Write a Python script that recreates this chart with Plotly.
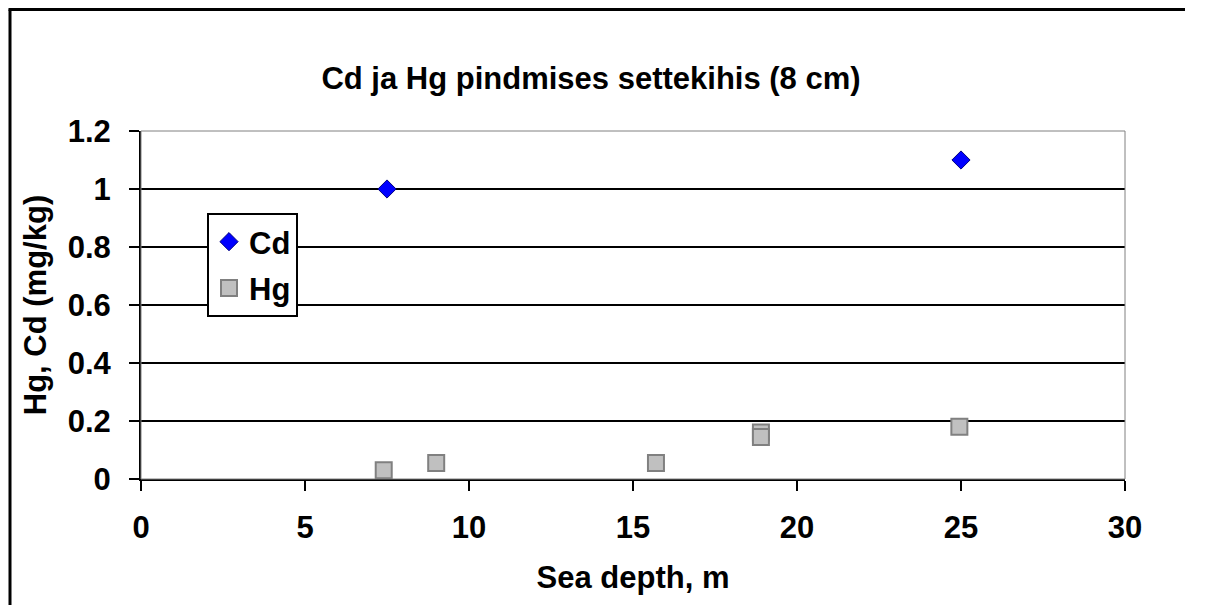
import plotly.graph_objects as go

cd_depth = [7.5, 25.0]
cd_value = [1.0, 1.1]
hg_depth = [7.4, 9.0, 15.7, 18.9, 18.9, 24.95]
hg_value = [0.03, 0.055, 0.055, 0.16, 0.145, 0.18]

x_ticks = [0, 5, 10, 15, 20, 25, 30]
y_ticks = [0, 0.2, 0.4, 0.6, 0.8, 1.0, 1.2]
y_tick_text = ["0", "0.2", "0.4", "0.6", "0.8", "1", "1.2"]

FONT = "Liberation Sans, Arial, sans-serif"
FS = 31

W, H = 1212, 605
L, R, T, B = 141, 1212 - 1125, 131, 605 - 479
pw, ph = W - L - R, H - T - B

fig = go.Figure()
fig.add_trace(go.Scatter(
    x=cd_depth, y=cd_value, mode="markers", name="<b>Cd</b>", legendgroup="cd",
    marker=dict(symbol="diamond", size=14, color="#0000FF",
                line=dict(color="#000080", width=1)),
))
fig.add_trace(go.Scatter(
    x=hg_depth, y=hg_value, mode="markers", name="<b>Hg</b>", legendgroup="hg",
    marker=dict(symbol="square", size=16, color="#C0C0C0",
                line=dict(color="#808080", width=2)),
))

def px_x(p):
    return (p - L) / pw

def px_y(p):
    return (H - B - p) / ph

shapes = [
    # plot area border (grey)
    dict(type="rect", xref="paper", yref="paper", x0=0, x1=1, y0=0, y1=1,
         line=dict(color="#808080", width=1), layer="above"),
    # outer chart frame: left and top edges
    dict(type="line", xref="paper", yref="paper",
         x0=px_x(10), x1=px_x(10), y0=px_y(9.5), y1=px_y(605),
         line=dict(color="black", width=3), layer="above"),
    dict(type="line", xref="paper", yref="paper",
         x0=px_x(8.5), x1=px_x(1185), y0=px_y(9.5), y1=px_y(9.5),
         line=dict(color="black", width=3), layer="above"),
]

fig.update_layout(
    width=W, height=H,
    autosize=False,
    margin=dict(l=L, r=R, t=T, b=B, pad=0),
    paper_bgcolor="white", plot_bgcolor="white",
    font=dict(family=FONT, size=FS, color="black"),
    title=dict(text="<b>Cd ja Hg pindmises settekihis (8 cm)</b>",
               x=591 / W, xanchor="center", y=1 - 78 / H, yanchor="middle",
               font=dict(family=FONT, size=FS, color="black")),
    xaxis=dict(range=[0, 30], tickvals=x_ticks,
               ticktext=[f"<b>{v}</b>" for v in x_ticks],
               showgrid=False, zeroline=False, showline=True,
               linecolor="black", linewidth=2, ticks="outside", ticklen=10,
               tickwidth=2, tickcolor="black", ticklabelstandoff=10,
               title=dict(text="<b>Sea depth, m</b>", standoff=22,
                          font=dict(family=FONT, size=FS))),
    yaxis=dict(range=[0, 1.2], tickvals=y_ticks,
               ticktext=[f"<b>{t}</b>" for t in y_tick_text],
               showgrid=True, gridcolor="black", gridwidth=2, zeroline=False,
               showline=True, linecolor="black", linewidth=2,
               ticks="outside", ticklen=10, tickwidth=2, tickcolor="black",
               ticklabelstandoff=12,
               title=dict(text="<b>Hg, Cd (mg/kg)</b>", standoff=12,
                          font=dict(family=FONT, size=FS))),
    legend=dict(x=px_x(207), y=px_y(213), xanchor="left", yanchor="top",
                bordercolor="black", borderwidth=2, bgcolor="white",
                font=dict(family=FONT, size=FS), tracegroupgap=3,
                itemwidth=30),
    shapes=shapes,
    showlegend=True,
)

fig.write_html("out.html", config={"displayModeBar": False})
